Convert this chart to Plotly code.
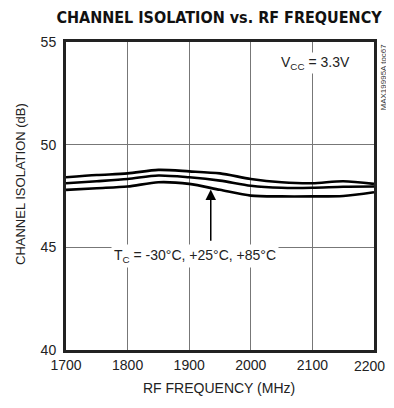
import plotly.graph_objects as go

freq = [1700, 1750, 1800, 1850, 1900, 1950, 2000, 2050, 2100, 2150, 2200]
iso_top = [48.41, 48.52, 48.6, 48.77, 48.70, 48.6, 48.33, 48.17, 48.12, 48.22, 48.09]
iso_mid = [48.12, 48.22, 48.33, 48.5, 48.41, 48.25, 48.0, 47.9, 47.9, 47.95, 47.96]
iso_bot = [47.8, 47.88, 47.96, 48.17, 48.09, 47.8, 47.52, 47.48, 47.48, 47.5, 47.68]

x_ticks = [1700, 1800, 1900, 2000, 2100, 2200]
y_ticks = [40, 45, 50, 55]

FONT = "Liberation Sans, Arial, sans-serif"
TFONT = "DejaVu Sans Condensed, Liberation Sans, sans-serif"

# page body has an 8px margin; size the figure so the page does not overflow the window
W, H = 378, 392
L, R, T, B = 58, 12, 34, 50
PW, PH = W - L - R, H - T - B


def px(fx):
    return (fx - L) / PW


def py(fy):
    return (H - B - fy) / PH


fig = go.Figure()
for ys in (iso_top, iso_mid, iso_bot):
    fig.add_trace(go.Scatter(x=freq, y=ys, mode="lines",
                             line=dict(color="black", width=2.6, shape="spline", smoothing=0.8),
                             showlegend=False, hoverinfo="skip"))

# last x tick label is placed separately (right-aligned) so it stays inside the page edge
x_text = [str(v) for v in x_ticks[:-1]] + [""]

fig.update_layout(
    width=W, height=H,
    margin=dict(l=L, r=R, t=T, b=B, autoexpand=False),
    paper_bgcolor="white", plot_bgcolor="white",
    font=dict(family=FONT, size=14, color="#222"),
    title=dict(text="<b>CHANNEL ISOLATION vs. RF FREQUENCY</b>", x=211 / W, xanchor="center",
               y=1 - 9.5 / H, yanchor="middle", font=dict(family=TFONT, size=16, color="#111")),
    xaxis=dict(range=[1700, 2200], tickvals=x_ticks, ticktext=x_text,
               showgrid=True, gridcolor="#777", gridwidth=1,
               showline=True, linecolor="#222", linewidth=3, mirror=True, ticks="", zeroline=False,
               tickfont=dict(size=14)),
    yaxis=dict(range=[40, 55], tickvals=y_ticks, ticktext=[str(v) for v in y_ticks],
               showgrid=True, gridcolor="#777", gridwidth=1, ticklabelstandoff=4,
               showline=True, linecolor="#222", linewidth=3, mirror=True, ticks="", zeroline=False,
               tickfont=dict(size=14)),
)

fig.add_annotation(x=px(377.5), y=py(358), xref="paper", yref="paper", xanchor="right", yanchor="middle",
                   text=str(x_ticks[-1]), showarrow=False, borderpad=0,
                   font=dict(family=FONT, size=14, color="#222"))
fig.add_annotation(x=px(211), y=py(380), xref="paper", yref="paper", xanchor="center", yanchor="middle",
                   text="RF FREQUENCY (MHz)", showarrow=False,
                   font=dict(family=FONT, size=14, color="#222"))
fig.add_annotation(x=px(12), y=py(176), xref="paper", yref="paper", xanchor="center", yanchor="middle",
                   text="CHANNEL ISOLATION (dB)", textangle=-90, showarrow=False,
                   font=dict(family=FONT, size=13, color="#222"))
fig.add_annotation(x=1935, y=47.82, xref="x", yref="y", ax=1935, ay=45.25, axref="x", ayref="y",
                   text="", showarrow=True, arrowhead=2, arrowsize=1.4, arrowwidth=1.5, arrowcolor="black")
fig.add_annotation(x=1909, y=44.6, xref="x", yref="y", text="T<sub>C</sub> = -30°C, +25°C, +85°C",
                   showarrow=False, bgcolor="white", font=dict(family=FONT, size=14, color="#222"), borderpad=2)
fig.add_annotation(x=2164, y=54.5, xref="x", yref="y", xanchor="right", yanchor="top",
                   text="V<sub>CC</sub> = 3.3V", showarrow=False, bgcolor="white",
                   font=dict(family=FONT, size=14, color="#222"))
fig.add_annotation(x=px(375), y=1.0, xref="paper", yref="paper", xanchor="center", yanchor="top",
                   text="MAX19995A toc67", textangle=-90, showarrow=False,
                   font=dict(family=FONT, size=8, color="#333"))

fig.write_html("out.html")
